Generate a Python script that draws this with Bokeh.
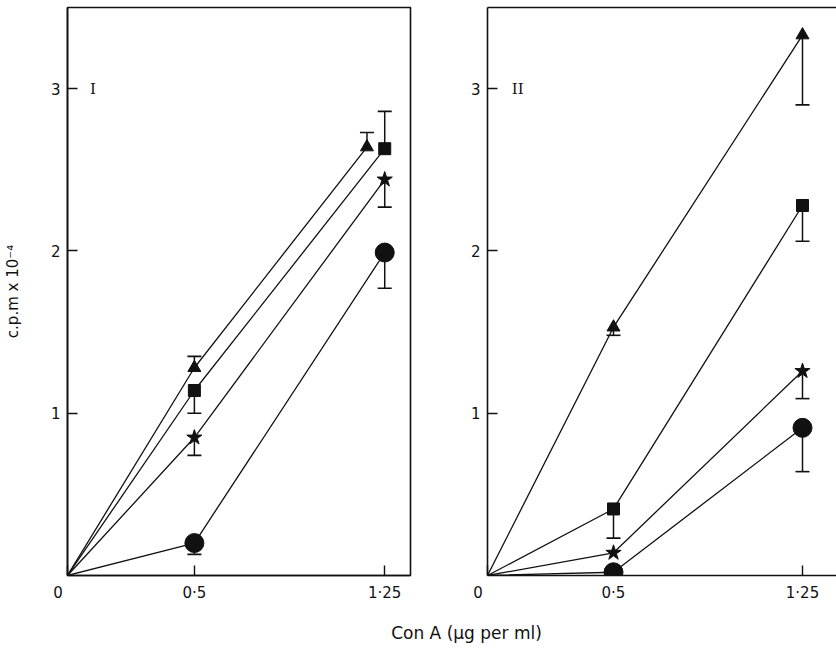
import math
from bokeh.plotting import figure
from bokeh.layouts import row, column
from bokeh.models import Range1d, FixedTicker, Label, LinearAxis
from bokeh.embed import file_html
from bokeh.resources import INLINE

# ---------------- data ----------------
conc = [0, 0.5, 1.25]                 # Con A (ug per ml)
tick_vals_x = [0, 0.5, 1.25]
tick_labels_x = ["0\u00a0\u00a0\u00a0\u00a0", "0·5", "1·25"]
tick_vals_y = [1, 2, 3]
tick_labels_y = ["1", "2", "3"]

# Panel I  (c.p.m x 10^-4)
I_tri_x = [0, 0.5, 1.18]              # triangle drawn slightly left of 1.25
I_tri = [0, 1.28, 2.64]
I_tri_err = [math.nan, 1.35, 2.73]
I_sq = [0, 1.14, 2.63]
I_sq_err = [math.nan, 1.00, 2.86]
I_star = [0, 0.85, 2.44]
I_star_err = [math.nan, 0.74, 2.27]
I_circ = [0, 0.20, 1.99]
I_circ_err = [math.nan, 0.13, 1.77]

# Panel II
II_tri = [0, 1.53, 3.33]
II_tri_err = [math.nan, 1.48, 2.90]
II_sq = [0, 0.41, 2.28]
II_sq_err = [math.nan, 0.23, 2.06]
II_star = [0, 0.14, 1.26]
II_star_err = [math.nan, math.nan, 1.09]
II_circ = [0, 0.02, 0.91]
II_circ_err = [math.nan, math.nan, 0.64]

FONT = "DejaVu Sans"
SERIF = "DejaVu Serif"
INK = "#111111"


def make_panel(width, border_left, border_right, x_end, roman, roman_x, ylabel, box=True):
    p = figure(width=width, height=604, output_backend="svg", toolbar_location=None,
               x_range=Range1d(0, x_end), y_range=Range1d(0, 3.5),
               min_border_left=border_left, min_border_right=border_right,
               min_border_top=7, min_border_bottom=28)
    p.xgrid.visible = False
    p.ygrid.visible = False
    p.background_fill_color = "white"
    p.border_fill_color = "white"

    xax = p.below[0]
    yax = p.left[0]
    for ax in (xax, yax):
        ax.axis_line_color = INK
        ax.axis_line_width = 1.6
        ax.major_tick_in = 10
        ax.major_tick_out = 0
        ax.major_tick_line_width = 1.4
        ax.major_tick_line_color = INK
        ax.minor_tick_line_color = None
        ax.major_label_text_font = FONT
        ax.major_label_text_font_size = "15px"
        ax.major_label_text_color = INK

    xax.ticker = FixedTicker(ticks=tick_vals_x)
    xax.major_label_overrides = dict(zip(tick_vals_x, tick_labels_x))
    xax.major_label_standoff = 8
    yax.ticker = FixedTicker(ticks=tick_vals_y)
    yax.major_label_overrides = dict(zip(tick_vals_y, tick_labels_y))
    yax.major_label_standoff = 7
    if ylabel:
        yax.axis_label = ylabel
        yax.axis_label_text_font = FONT
        yax.axis_label_text_font_style = "normal"
        yax.axis_label_text_font_size = "15px"
        yax.axis_label_text_color = INK
        yax.axis_label_standoff = 26

    if box:
        p.outline_line_color = INK
        p.outline_line_width = 1.6
    else:
        # only a top border line; the right side is cut off at the page edge
        p.outline_line_color = None
        top = LinearAxis(ticker=FixedTicker(ticks=[]), axis_line_color=INK,
                         axis_line_width=1.6, major_tick_in=0, major_tick_out=0,
                         minor_tick_line_color=None, major_label_standoff=0,
                         major_label_text_font_size="0px",
                         major_label_text_color=None)
        p.add_layout(top, "above")

    p.add_layout(Label(x=roman_x, y=3.0, text=roman, text_align="center",
                       text_baseline="middle", text_font=SERIF,
                       text_font_size="15px", text_color=INK))
    return p


def draw_series(p, xs, ys, errs, marker, size):
    p.line(xs, ys, line_color=INK, line_width=1.3)
    sx, sy0, sy1 = [], [], []
    for x, y, e in zip(xs, ys, errs):
        if not math.isnan(e):
            sx.append(x); sy0.append(y); sy1.append(e)
    if sx:
        p.segment(x0=sx, y0=sy0, x1=sx, y1=sy1, line_color=INK, line_width=1.5)
        p.scatter(sx, sy1, marker="dash", size=14, line_color=INK, line_width=1.6)
    p.scatter(xs[1:], ys[1:], marker=marker, size=size, fill_color=INK,
              line_color=INK, line_width=1)


# page has no margin in Bokeh's template: panel I frame spans x 64..410
p1 = make_panel(420, 64, 10, 346 / 256, "I", 0.10, "c.p.m x 10⁻⁴")
draw_series(p1, I_tri_x, I_tri, I_tri_err, "triangle", 13)
draw_series(p1, conc, I_sq, I_sq_err, "square", 12)
draw_series(p1, conc, I_star, I_star_err, "star", 16)
draw_series(p1, conc, I_circ, I_circ_err, "circle", 19)

# panel II frame spans x 487..836 and is cut at the right edge
p2 = make_panel(416, 67, 0, 349 / 252, "II", 0.12, None, box=False)
draw_series(p2, conc, II_tri, II_tri_err, "triangle", 13)
draw_series(p2, conc, II_sq, II_sq_err, "square", 12)
draw_series(p2, conc, II_star, II_star_err, "star", 16)
draw_series(p2, conc, II_circ, II_circ_err, "circle", 19)

# shared x-axis title below both panels
p3 = figure(width=836, height=44, output_backend="svg", toolbar_location=None,
            x_range=Range1d(0, 836), y_range=Range1d(0, 44),
            min_border_left=0, min_border_right=0, min_border_top=0, min_border_bottom=0)
p3.axis.visible = False
p3.xgrid.visible = False
p3.ygrid.visible = False
p3.outline_line_color = None
p3.add_layout(Label(x=466, y=16, text="Con A (μg per ml)", text_align="center",
                    text_baseline="middle", text_font=FONT, text_font_size="17px",
                    text_color=INK))

layout = column(row(p1, p2, spacing=0), p3, spacing=0)

with open("out.html", "w") as f:
    f.write(file_html(layout, INLINE))
